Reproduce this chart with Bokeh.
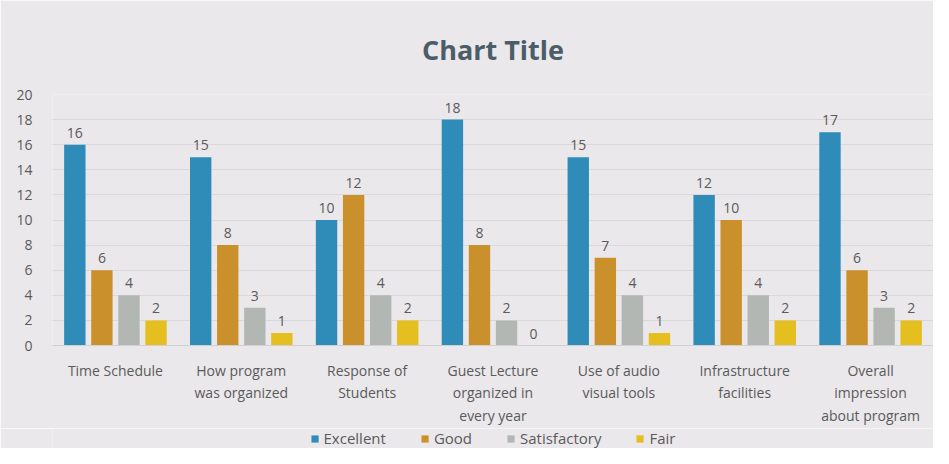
from bokeh.plotting import figure
from bokeh.layouts import column
from bokeh.models import ColumnDataSource, FactorRange, LabelSet, Legend, LegendItem
from bokeh.transform import dodge
from bokeh.core.properties import value
from bokeh.embed import file_html
from bokeh.resources import INLINE

categories = ["Time Schedule", "How program\nwas organized", "Response of\nStudents",
              "Guest Lecture\norganized in\nevery year", "Use of audio\nvisual tools",
              "Infrastructure\nfacilities", "Overall\nimpression\nabout program"]
series_names = ["Excellent", "Good", "Satisfactory", "Fair"]
excellent = [16, 15, 10, 18, 15, 12, 17]
good = [6, 8, 12, 8, 7, 10, 6]
satisfactory = [4, 3, 4, 2, 4, 4, 3]
fair = [2, 1, 2, 0, 1, 2, 2]
y_ticks = [0, 2, 4, 6, 8, 10, 12, 14, 16, 18, 20]

colors = ["#2f8cb9", "#c9902c", "#b3b7b4", "#e5be1f"]
offsets = [-0.3225, -0.1075, 0.1075, 0.3225]
bg = "#eae8eb"
txt = "#5a5a5a"
FONT = "Open Sans"
W = 933

p = figure(x_range=FactorRange(*categories), y_range=(0, 20), width=W, height=428,
           output_backend="svg", toolbar_location=None, title="Chart Title",
           min_border_left=52, min_border_right=0, min_border_top=94, min_border_bottom=83)
p.background_fill_color = bg
p.border_fill_color = bg
p.outline_line_color = None

p.title.align = "center"
p.title.text_font = FONT
p.title.text_font_size = "27px"
p.title.text_font_style = "bold"
p.title.text_color = "#4b5d68"
p.title.standoff = 54

data = dict(cat=categories)
for name, vals in zip(series_names, [excellent, good, satisfactory, fair]):
    data[name] = vals
    data[name + "_lbl"] = [str(v) for v in vals]
src = ColumnDataSource(data)

for name, col, off in zip(series_names, colors, offsets):
    p.vbar(x=dodge("cat", off, range=p.x_range), top=name, width=0.17, source=src,
           fill_color=col, line_color=None)
    lbl = LabelSet(x=dodge("cat", off, range=p.x_range), y=name, text=name + "_lbl",
                   source=src, text_align="center", text_baseline="bottom", y_offset=7,
                   text_font=value(FONT), text_font_size="14px", text_color=txt)
    p.add_layout(lbl)

p.yaxis.ticker = y_ticks
p.yaxis.axis_line_color = None
p.yaxis.major_tick_line_color = None
p.yaxis.minor_tick_line_color = None
p.yaxis.major_label_text_font = FONT
p.yaxis.major_label_text_font_size = "14px"
p.yaxis.major_label_text_color = txt
p.yaxis.major_label_standoff = 14

p.xaxis.axis_line_color = "#d0d0d0"
p.xaxis.major_tick_line_color = None
p.xaxis.minor_tick_line_color = None
p.xaxis.major_label_text_font = FONT
p.xaxis.major_label_text_font_size = "14px"
p.xaxis.major_label_text_color = txt
p.xaxis.major_label_standoff = 9

p.xgrid.grid_line_color = None
p.ygrid.grid_line_color = "#dad8db"

# legend strip (legend-only renderers kept outside the visible range)
lg = figure(width=W, height=20, output_backend="svg", toolbar_location=None,
            x_range=(0, 1), y_range=(0, 1), min_border=0,
            x_axis_location=None, y_axis_location=None)
lg.background_fill_color = bg
lg.border_fill_color = bg
lg.outline_line_color = None
lg.grid.visible = False
items = []
for name, col in zip(series_names, colors):
    r = lg.vbar(x=[-10], top=[-10], width=1, fill_color=col, line_color=None)
    items.append(LegendItem(label=name, renderers=[r]))
legend = Legend(items=items, orientation="horizontal", location="center",
                label_text_font=FONT, label_text_font_size="15px", label_text_color=txt,
                glyph_width=9, glyph_height=9, spacing=34, background_fill_alpha=0,
                border_line_color=None, padding=0, margin=0, label_standoff=5)
lg.add_layout(legend)

layout = column(p, lg, spacing=0)
open("out.html", "w").write(file_html(layout, INLINE))
